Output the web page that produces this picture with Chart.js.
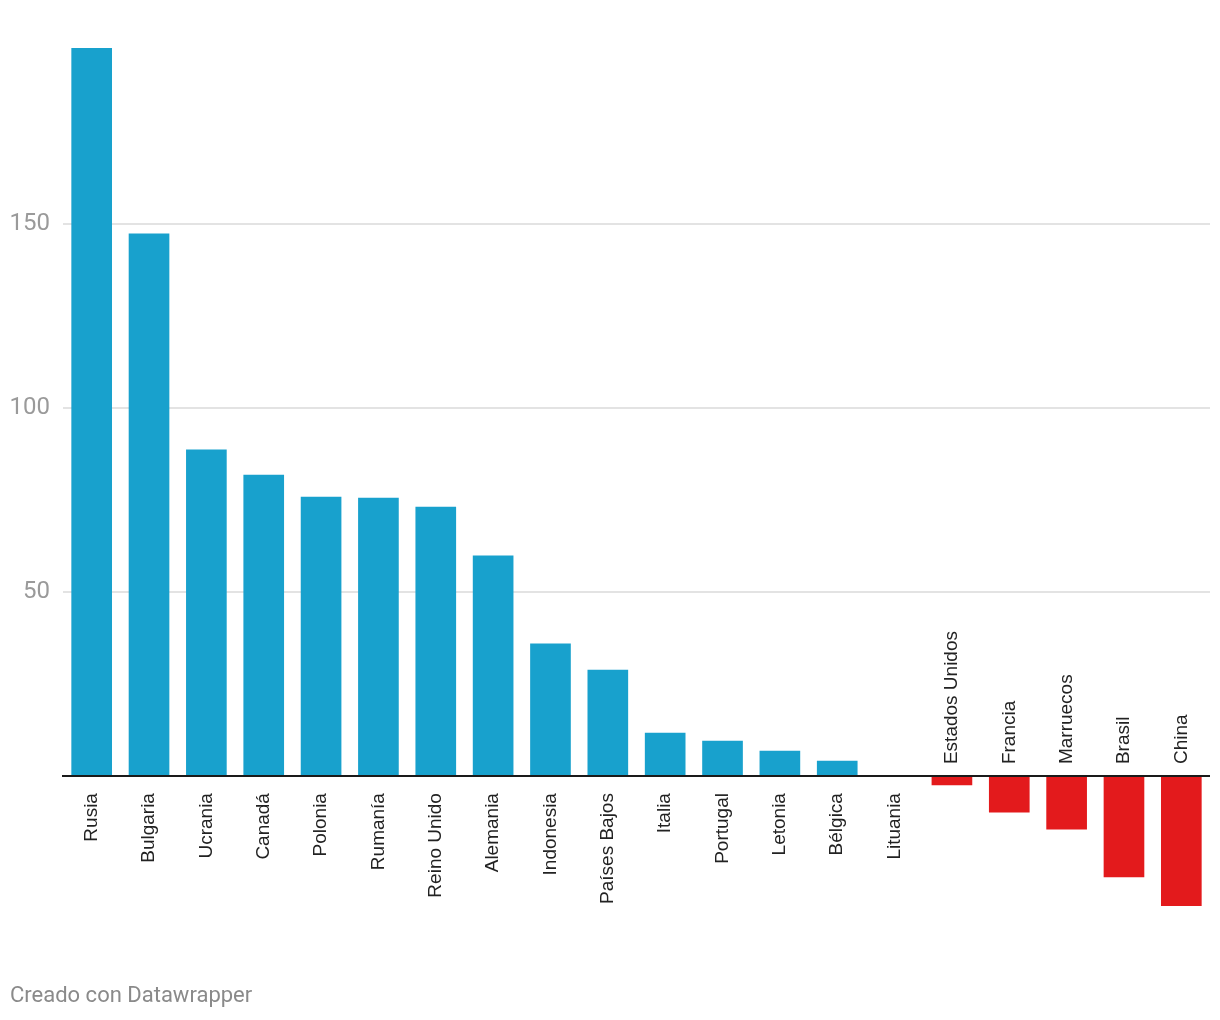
<!DOCTYPE html>
<html>
<head>
<meta charset="utf-8">
<script src="https://cdn.jsdelivr.net/npm/chart.js@4/dist/chart.umd.min.js"></script>
<style>
  html, body { margin: 0; padding: 0; background: #fff; }
  #wrap { position: relative; width: 1220px; height: 1020px; }
  #footer { position: absolute; left: 10px; top: 982px; font-family: Roboto, sans-serif; font-size: 22px; color: #8a8a8a; }
</style>
</head>
<body>
<div id="wrap">
  <canvas id="c" width="1220" height="1020"></canvas>
  <div id="footer">Creado con Datawrapper</div>
</div>
<script>
const categories = ["Rusia","Bulgaria","Ucrania","Canadá","Polonia","Rumanía","Reino Unido","Alemania","Indonesia","Países Bajos","Italia","Portugal","Letonia","Bélgica","Lituania","Estados Unidos","Francia","Marruecos","Brasil","China"];
const values = [197.8, 147.3, 88.6, 81.8, 75.8, 75.5, 73.1, 59.8, 35.9, 28.8, 11.7, 9.5, 6.8, 4.1, 0, -2.4, -9.8, -14.4, -27.4, -35.3];
const yTicks = [50, 100, 150];

const posColor = '#18a1cd';
const negColor = '#e31a1c';

const labelPlugin = {
  id: 'labels',
  afterDatasetsDraw(chart) {
    const ctx = chart.ctx;
    const xs = chart.scales.x, ys = chart.scales.y;
    const y0 = ys.getPixelForValue(0);
    const area = chart.chartArea;
    ctx.save();
    ctx.strokeStyle = '#1a1a1a';
    ctx.lineWidth = 2;
    ctx.beginPath();
    ctx.moveTo(area.left - 1, y0);
    ctx.lineTo(area.right, y0);
    ctx.stroke();
    ctx.font = '19px "Liberation Sans", Arial, sans-serif';
    ctx.fillStyle = '#222';
    ctx.textBaseline = 'middle';
    categories.forEach((c, i) => {
      const x = xs.getPixelForValue(i);
      ctx.save();
      if (values[i] >= 0) {
        ctx.translate(x, y0 + 17);
        ctx.rotate(-Math.PI / 2);
        ctx.textAlign = 'right';
      } else {
        ctx.translate(x, y0 - 12);
        ctx.rotate(-Math.PI / 2);
        ctx.textAlign = 'left';
      }
      ctx.fillText(c, 0, 0);
      ctx.restore();
    });
    ctx.restore();
  }
};

new Chart(document.getElementById('c'), {
  type: 'bar',
  data: {
    labels: categories,
    datasets: [{
      data: values,
      backgroundColor: values.map(v => v >= 0 ? posColor : negColor),
      barThickness: 40,
      borderWidth: 0
    }]
  },
  options: {
    responsive: false,
    animation: false,
    layout: { padding: { top: 48, bottom: 114, right: 10, left: 0 } },
    plugins: { legend: { display: false }, tooltip: { enabled: false } },
    scales: {
      x: {
        display: false,
        grid: { display: false },
        offset: true
      },
      y: {
        min: -35.3,
        max: 197.8,
        afterFit(scale) { scale.width = 63; },
        afterBuildTicks(scale) {
          scale.ticks = [{ value: -35.3 }, ...yTicks.map(v => ({ value: v })), { value: 197.8 }];
        },
        border: { display: false },
        grid: {
          drawTicks: false,
          color: ctx => (ctx.tick && yTicks.includes(ctx.tick.value)) ? '#e3e3e3' : 'rgba(0,0,0,0)',
          lineWidth: 2
        },
        ticks: {
          padding: 13,
          color: '#9a9a9a',
          font: { family: 'Roboto', size: 24 },
          callback: v => yTicks.includes(v) ? String(v) : ''
        }
      }
    }
  },
  plugins: [labelPlugin]
});
</script>
</body>
</html>
